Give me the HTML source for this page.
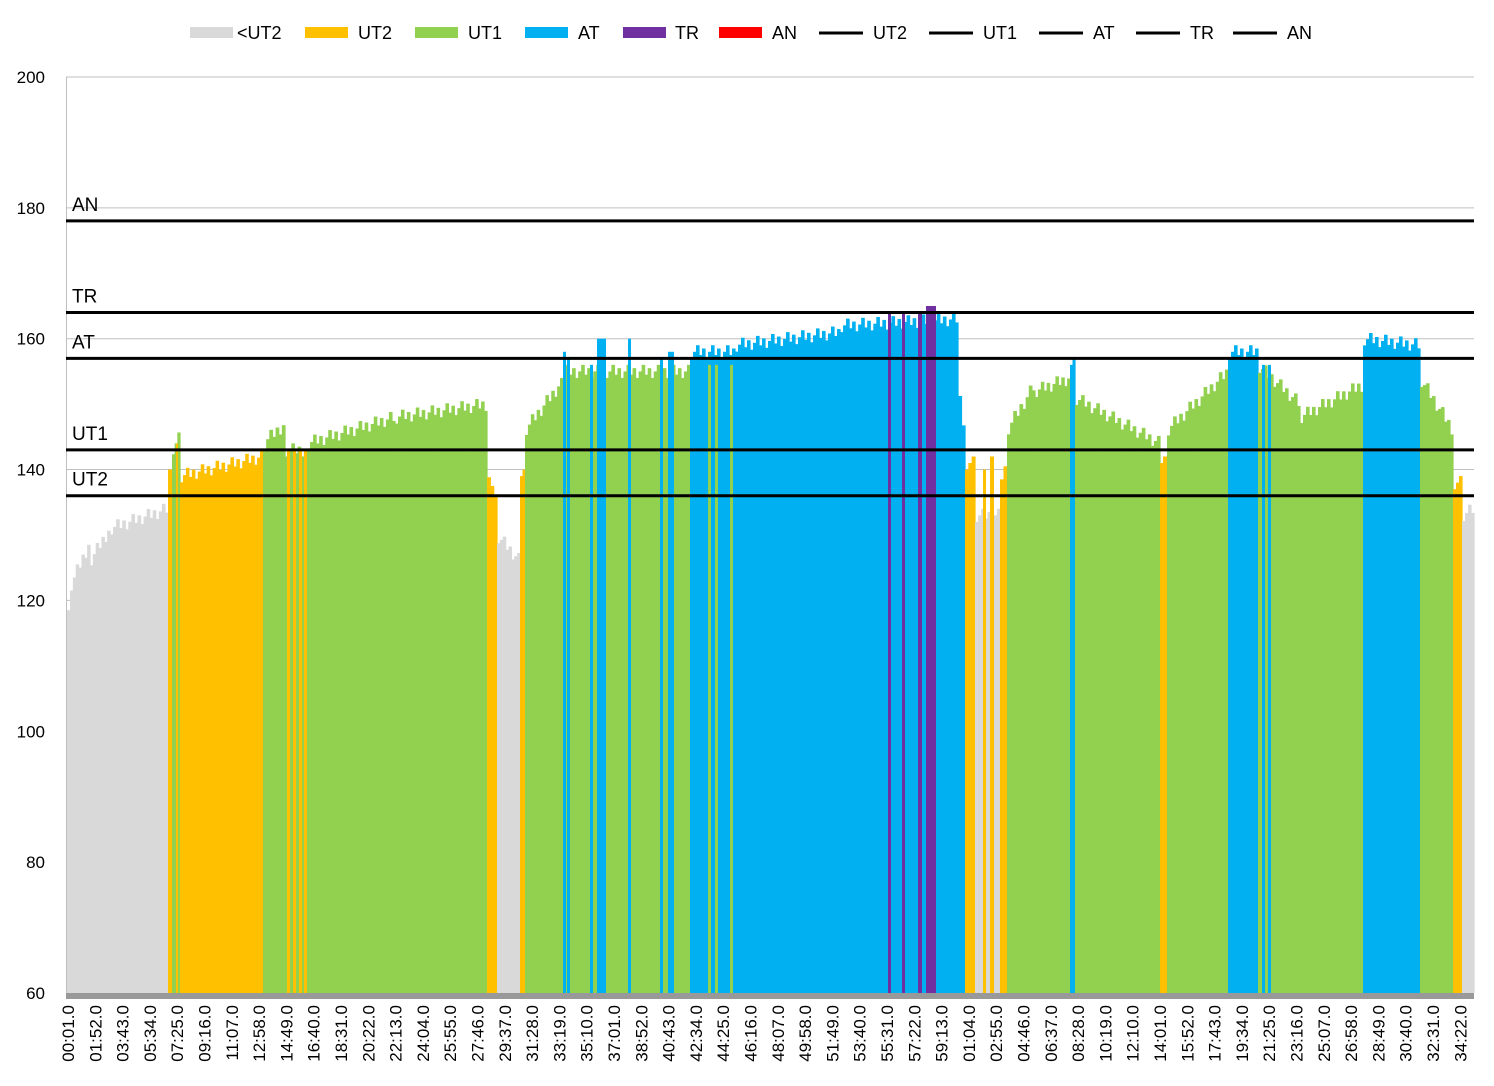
<!DOCTYPE html>
<html><head><meta charset="utf-8"><style>
body{margin:0;background:#fff}
svg{display:block;font-family:"Liberation Sans",sans-serif}
</style></head><body>
<svg id="s" width="1494" height="1086" xmlns="http://www.w3.org/2000/svg">
<rect width="1494" height="1086" fill="#fff"/>
<g id="grid"></g>
<g id="bars"></g>
<g id="over"></g>
</svg>
<script>
const S=document.getElementById('s'),NS='http://www.w3.org/2000/svg';
function el(t,a,p){const e=document.createElementNS(NS,t);for(const k in a)e.setAttribute(k,a[k]);(p||S).appendChild(e);return e;}
const Y=v=>993-(v-60)*6.543;
const G='#d9d9d9',O='#ffc000',L='#92d050',B='#00b0f0',P='#7030a0';
const grid=document.getElementById('grid'),bars=document.getElementById('bars'),over=document.getElementById('over');
for(let v=60;v<=200;v+=20){el('line',{x1:66,x2:1474,y1:Y(v),y2:Y(v),stroke:'#bfbfbf','stroke-width':1},grid);
 const t=el('text',{x:45,y:Y(v)+6,'text-anchor':'end','font-size':17},grid);t.textContent=v;}
el('line',{x1:66.5,x2:66.5,y1:77,y2:993,stroke:'#bfbfbf'},grid);
const segs=[
[67,70,117,122,G],[70,90,122,129,G],[90,110,126,131,G],[110,168,131,134,G],
[168,172,140,142,O],[172,180,143,145,L],[180,263,139,142,O],
[263,285,144,147,L],[285,307,143,143,L],[307,395,144,148,L],[395,487,148,150,L],
[487,497,141,134,O],[497,520,130,126,G],[520,525,140,140,O],[525,560,146,153,L],
[560,690,155,155,L],[690,735,158,158,B],[735,840,159,161,B],[840,958,162,163,B],
[958,965,155,144,B],[965,975,141,141,O],[975,1000,133,133,G],[1000,1007,139,141,O],
[1007,1035,146,153,L],[1035,1070,152,154,L],[1070,1075,157,157,B],[1075,1160,151,144,L],
[1160,1167,142,142,O],[1167,1228,146,155,L],[1228,1258,158,158,B],[1258,1300,156,150,L],
[1300,1363,148,153,L],[1363,1420,160,159,B],[1420,1453,154,146,L],[1453,1462,138,138,O],[1462,1474,133,134,G]];
for(const [x0,x1,v0,v1,c] of segs){
 const n=Math.max(1,Math.round((x1-x0)/3));
 for(let i=0;i<n;i++){const xa=x0+(x1-x0)*i/n,xb=x0+(x1-x0)*(i+1)/n;
  const v=v0+(v1-v0)*(i+0.5)/n+((i*7)%5-2)*0.5;
  el('rect',{x:xa,y:Y(v),width:xb-xa+0.6,height:993-Y(v),fill:c},bars);}
}
const stripes=[[176,2,144,O],[287,3,143,O],[293,3,143,O],[299,3,143,O],[304,3,143,O],
[563,3,158,B],[567,3,157,B],[590,3,156,B],[597,9,160,B],[628,3,160,B],[660,3,157,B],[668,6,158,B],
[708,3,156,L],[715,3,156,L],[730,3,156,L],[888,3,164,P],[902,3,164,P],[918,4,164,P],[926,10,165,P],
[983,3,140,O],[990,4,142,O],[1262,3,156,B],[1268,3,156,B],[1163,2,142,O]];
for(const [x,w,v,c] of stripes)el('rect',{x:x,y:Y(v),width:w,height:993-Y(v),fill:c},bars);
el('rect',{x:66,y:993,width:1408,height:6,fill:'#999'},over);
const lines=[['AN',178],['TR',164],['AT',157],['UT1',143],['UT2',136]];
for(const [n,v] of lines){el('line',{x1:66,x2:1474,y1:Y(v),y2:Y(v),stroke:'#000','stroke-width':3},over);
 const t=el('text',{x:72,y:Y(v)-10,'font-size':19},over);t.textContent=n;}
const labs="00:01.0 01:52.0 03:43.0 05:34.0 07:25.0 09:16.0 11:07.0 12:58.0 14:49.0 16:40.0 18:31.0 20:22.0 22:13.0 24:04.0 25:55.0 27:46.0 29:37.0 31:28.0 33:19.0 35:10.0 37:01.0 38:52.0 40:43.0 42:34.0 44:25.0 46:16.0 48:07.0 49:58.0 51:49.0 53:40.0 55:31.0 57:22.0 59:13.0 01:04.0 02:55.0 04:46.0 06:37.0 08:28.0 10:19.0 12:10.0 14:01.0 15:52.0 17:43.0 19:34.0 21:25.0 23:16.0 25:07.0 26:58.0 28:49.0 30:40.0 32:31.0 34:22.0".split(' ');
labs.forEach((s,i)=>{const x=68+i*27.3+6;const t=el('text',{x:0,y:0,'font-size':17,'text-anchor':'end',transform:`translate(${x},1005) rotate(-90)`},over);t.textContent=s;});
const leg=[[190,G,'<UT2',47],[305,O,'UT2',53],[415,L,'UT1',53],[525,B,'AT',53],[623,P,'TR',52],[719,'#ff0000','AN',53],
[819,'#000','UT2',0],[929,'#000','UT1',0],[1039,'#000','AT',0],[1136,'#000','TR',0],[1233,'#000','AN',0]];
for(const [x,c,n,box] of leg){
 if(box)el('rect',{x:x,y:27,width:43,height:11,fill:c},over);
 else el('line',{x1:x,x2:x+44,y1:33,y2:33,stroke:'#000','stroke-width':3},over);
 const t=el('text',{x:x+(box?box:54),y:39,'font-size':18},over);t.textContent=n;}
</script>
</body></html>
